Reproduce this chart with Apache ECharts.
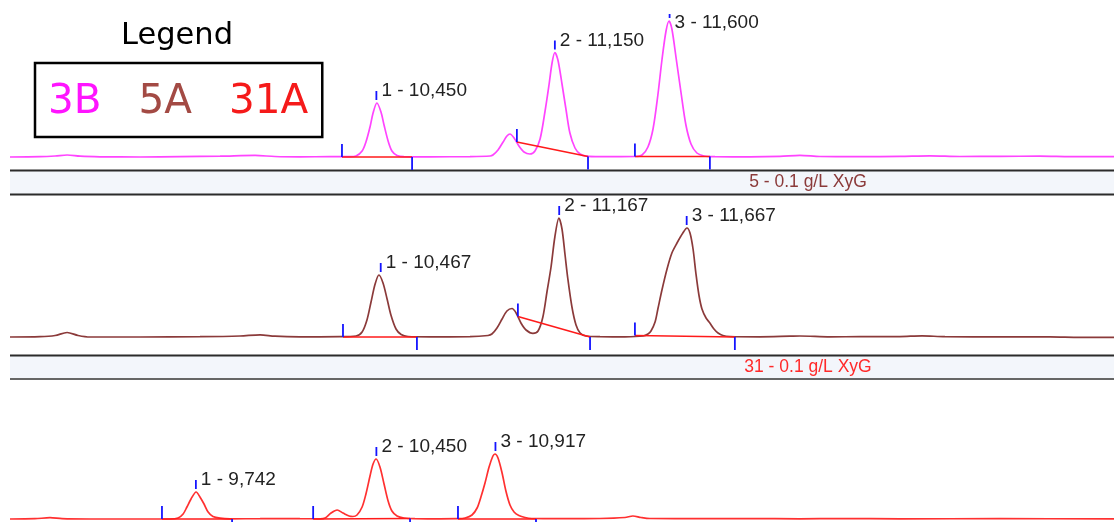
<!DOCTYPE html>
<html>
<head>
<meta charset="utf-8">
<title>XyG chromatograms</title>
<script src="https://cdn.jsdelivr.net/npm/echarts@6/dist/echarts.min.js"></script>
<style>
    html, body { margin: 0; padding: 0; background: #fff; }
    #chart { width: 1114px; height: 522px; }
</style>
</head>
<body>
<div id="chart"></div>
<script>
/* sample names and the title bars between the traces */
let samples = ['3B', '5A', '31A'];
let bandTitles = ['5 - 0.1 g/L XyG', '31 - 0.1 g/L XyG'];

/* traces: [retention time (min), signal] */
let trace3B = [
    [9.013, 0], [9.131, 0.3], [9.190, 1], [9.237, 2], [9.288, 0.8], [9.366, 0.2], [9.523, 0], [9.680, 0.4], [9.837, 0.8], [9.974, 1.6], [10.052, 0.5], [10.150, 0.2], [10.268, 0.3], [10.347, 0.3],
    [10.370, 1], [10.394, 6], [10.409, 15], [10.425, 30], [10.437, 44], [10.452, 54], [10.468, 45], [10.480, 32], [10.496, 16], [10.511, 6], [10.531, 1.5], [10.558, 0.3],
    [10.660, 0.2], [10.817, 0.4], [10.896, 1], [10.907, 2], [10.927, 7], [10.947, 15], [10.962, 21], [10.974, 23], [10.990, 19], [11.009, 11], [11.029, 5], [11.052, 3],
    [11.072, 6], [11.092, 18], [11.111, 45], [11.127, 72], [11.139, 94], [11.150, 104.5], [11.162, 97], [11.178, 73], [11.194, 47], [11.209, 24], [11.229, 9], [11.249, 3], [11.272, 0.8], [11.327, 0.3],
    [11.464, 0.5], [11.492, 2], [11.515, 10], [11.535, 28], [11.554, 62], [11.570, 97], [11.586, 126], [11.598, 136], [11.609, 128], [11.625, 100], [11.645, 64], [11.664, 32], [11.684, 13], [11.707, 4], [11.735, 1], [11.778, 0.3],
    [11.915, 0.2], [12.033, 0.6], [12.111, 1.6], [12.190, 0.5], [12.347, 0.3], [12.503, 0.6], [12.621, 1.2], [12.739, 0.5], [12.896, 0.6], [13.052, 0.9], [13.170, 0.4], [13.343, 0.3]
];
let trace5A = [
    [9.013, 0], [9.131, 0.3], [9.190, 1.5], [9.237, 4.5], [9.280, 1.5], [9.327, 0], [9.523, 0], [9.758, 0.3], [9.915, 1], [9.994, 2.2], [10.052, 0.8], [10.150, 0.2], [10.307, 0.3],
    [10.370, 1], [10.394, 5], [10.413, 17], [10.429, 35], [10.445, 53], [10.460, 62], [10.476, 54], [10.492, 38], [10.507, 22], [10.527, 8], [10.547, 2.5], [10.574, 0.5],
    [10.660, 0.2], [10.817, 0.3], [10.888, 1.5], [10.903, 3], [10.923, 9], [10.943, 18], [10.962, 26], [10.982, 28.5], [10.998, 24], [11.017, 14], [11.037, 7], [11.064, 3.7],
    [11.084, 6], [11.103, 20], [11.119, 45], [11.135, 70], [11.150, 100], [11.166, 119], [11.178, 108], [11.190, 82], [11.201, 58], [11.217, 30], [11.233, 12], [11.249, 4], [11.272, 1], [11.327, 0.3], [11.425, 0.2],
    [11.496, 1], [11.515, 3], [11.527, 6], [11.543, 15], [11.554, 28], [11.570, 47], [11.590, 68], [11.609, 84], [11.629, 94], [11.652, 104], [11.668, 109], [11.680, 104], [11.692, 88], [11.703, 64], [11.715, 42], [11.727, 28], [11.743, 19], [11.758, 14], [11.774, 8], [11.790, 4], [11.809, 1.5], [11.837, 0.5],
    [11.954, 0.2], [12.072, 0.8], [12.111, 1], [12.229, 0.2], [12.347, 0.3], [12.503, 0.4], [12.590, 1.2], [12.680, 0.3], [12.896, 0.2], [13.092, 0.2], [13.209, -0.3], [13.343, -0.3]
];
let trace31A = [
    [9.013, 0], [9.111, 0.3], [9.170, 1.3], [9.217, 0.3], [9.327, 0], [9.523, 0], [9.641, 0],
    [9.672, 1], [9.692, 5], [9.707, 12], [9.723, 20], [9.743, 27], [9.758, 22], [9.774, 15], [9.790, 7], [9.809, 2.5], [9.837, 0.8], [9.876, 0.2],
    [9.994, 0.3], [10.072, 0.5], [10.150, 0.3], [10.229, 0.2], [10.249, 1], [10.272, 6], [10.296, 9], [10.319, 6], [10.343, 3], [10.358, 2.5],
    [10.374, 4], [10.394, 12], [10.409, 25], [10.425, 43], [10.437, 55], [10.449, 60], [10.464, 52], [10.480, 35], [10.496, 18], [10.511, 8], [10.531, 3], [10.558, 1], [10.601, 0.3],
    [10.700, 0.2], [10.770, 0.3], [10.798, 1], [10.825, 4], [10.845, 11], [10.860, 22], [10.876, 36], [10.892, 52], [10.907, 63], [10.915, 65], [10.927, 61], [10.943, 46], [10.958, 28], [10.974, 14], [10.990, 7], [11.009, 3.5], [11.033, 1.5], [11.060, 0.5],
    [11.170, 0.3], [11.327, 0.5], [11.425, 1.5], [11.456, 3], [11.488, 1.5], [11.523, 0.5], [11.719, 0.3], [11.915, 0.4], [12.111, 0.2], [12.268, 0.5], [12.503, 0.2], [12.896, 0.3], [13.343, 0.2]
];

/* peak tables: retention time, apex signal, baseline start / end [time, signal] */
let rt3B = [10.450, 11.150, 11.600];
let apex3B = [54, 104.5, 136];
let start3B = [[10.315, 0], [11.001, 15], [11.464, 0.5]];
let end3B = [[10.590, 0], [11.280, 0.5], [11.758, 0.5]];

let rt5A = [10.467, 11.167, 11.667];
let apex5A = [62, 119, 109];
let start5A = [[10.319, 0], [11.005, 20.5], [11.464, 1.5]];
let end5A = [[10.609, 0], [11.288, 0], [11.856, 0]];

let rt31A = [9.742, 10.450, 10.917];
let apex31A = [27, 60, 65];
let start31A = [[9.609, 0], [10.202, 0], [10.770, 0]];
let end31A = [[9.884, 0], [10.582, 0.5], [11.076, 0]];

let traces = [trace3B, trace5A, trace31A];
let peaks = [
    [rt3B, apex3B, start3B, end3B],
    [rt5A, apex5A, start5A, end5A],
    [rt31A, apex31A, start31A, end31A]
];

let lineColors = ['#ff44ff', '#8b3a3a', '#ff3030'];
let legendColors = ['#ff14ff', '#a34a44', '#f51a1a'];
let bandColors = ['#8b3a3a', '#ff2a2a'];

/* panel layout */
let panels = [
    { top: 14, height: 146, min: -3, max: 143 },
    { top: 197, height: 143, min: -3, max: 140 },
    { top: 381, height: 141, min: -3, max: 138 }
];
let bands = [{ y1: 170.5, y2: 194.5 }, { y1: 355.5, y2: 379 }];

let peakMarks = function (params, api) {
    let cs = params.coordSys;
    let apex = api.coord([api.value(0), api.value(1)]);
    let s = api.coord([api.value(2), api.value(3)]);
    let e = api.coord([api.value(4), api.value(5)]);
    let tickTop = Math.max(apex[1] - 12, cs.y);
    let labelY = Math.max(apex[1] - 12, cs.y + 9);
    let blue = '#1414ff';
    let text = api.value(6) + ' - ' + api.value(0).toFixed(3).replace('.', ',');
    return {
        type: 'group',
        children: [
            { type: 'line', shape: { x1: s[0], y1: s[1], x2: e[0], y2: e[1] }, style: { stroke: '#ff1a1a', lineWidth: 1.6 } },
            { type: 'line', shape: { x1: s[0], y1: s[1], x2: s[0], y2: s[1] - 13 }, style: { stroke: blue, lineWidth: 1.8 } },
            { type: 'line', shape: { x1: e[0], y1: e[1], x2: e[0], y2: e[1] + 13 }, style: { stroke: blue, lineWidth: 1.8 } },
            { type: 'line', shape: { x1: apex[0], y1: apex[1] - 3, x2: apex[0], y2: tickTop }, style: { stroke: blue, lineWidth: 1.8 } },
            {
                type: 'text', x: apex[0] + 5, y: labelY,
                style: { text: text, fill: '#222', fontSize: 19, fontFamily: '"Liberation Sans", Arial', verticalAlign: 'middle' }
            }
        ]
    };
};

let grids = [], xAxes = [], yAxes = [], series = [];
panels.forEach(function (p, i) {
    grids.push({ left: 10, right: 0, top: p.top, height: p.height });
    xAxes.push({ type: 'value', gridIndex: i, min: 9.013, max: 13.343, show: false });
    yAxes.push({ type: 'value', gridIndex: i, min: p.min, max: p.max, show: false });
    series.push({
        name: samples[i],
        type: 'line',
        xAxisIndex: i,
        yAxisIndex: i,
        data: traces[i],
        smooth: 0.3,
        showSymbol: false,
        lineStyle: { color: lineColors[i], width: 1.7 },
        itemStyle: { color: lineColors[i] },
        z: 2
    });
    let pk = peaks[i];
    let rows = pk[0].map(function (rt, k) {
        return [rt, pk[1][k], pk[2][k][0], pk[2][k][1], pk[3][k][0], pk[3][k][1], k + 1];
    });
    series.push({
        type: 'custom',
        xAxisIndex: i,
        yAxisIndex: i,
        data: rows,
        encode: { x: 0, y: 1 },
        renderItem: peakMarks,
        clip: false,
        silent: true,
        z: 3
    });
});

let graphics = [];
bands.forEach(function (b, i) {
    graphics.push({ type: 'rect', shape: { x: 10, y: b.y1, width: 1104, height: b.y2 - b.y1 }, style: { fill: '#f3f6fb' }, z: 0 });
    graphics.push({ type: 'line', shape: { x1: 10, y1: b.y1, x2: 1114, y2: b.y1 }, style: { stroke: '#2b2b2b', lineWidth: 2 } });
    graphics.push({ type: 'line', shape: { x1: 10, y1: b.y2, x2: 1114, y2: b.y2 }, style: { stroke: i === 0 ? '#2b2b2b' : '#666', lineWidth: 2 } });
    graphics.push({
        type: 'text', x: 808, y: (b.y1 + b.y2) / 2,
        style: { text: bandTitles[i], fill: bandColors[i], fontSize: 17.5, fontFamily: '"Liberation Sans", Arial', align: 'center', verticalAlign: 'middle' }
    });
});

let myChart = echarts.init(document.getElementById('chart'));
myChart.setOption({
    animation: false,
    backgroundColor: '#fff',
    title: {
        text: 'Legend',
        left: 121,
        top: 21,
        padding: 0,
        textStyle: { fontSize: 30.5, fontWeight: 'normal', color: '#000', fontFamily: '"DejaVu Sans"' }
    },
    legend: {
        left: 35,
        top: 63,
        icon: 'none',
        itemWidth: 0,
        itemHeight: 40,
        itemGap: 32,
        padding: [19, 14, 14, 8],
        borderColor: '#000',
        borderWidth: 2.5,
        selectedMode: false,
        textStyle: { fontSize: 40.5, fontFamily: '"DejaVu Sans"' },
        data: samples.map(function (s, i) {
            return { name: s, textStyle: { color: legendColors[i] } };
        })
    },
    grid: grids,
    xAxis: xAxes,
    yAxis: yAxes,
    graphic: graphics,
    series: series
});
</script>
</body>
</html>
